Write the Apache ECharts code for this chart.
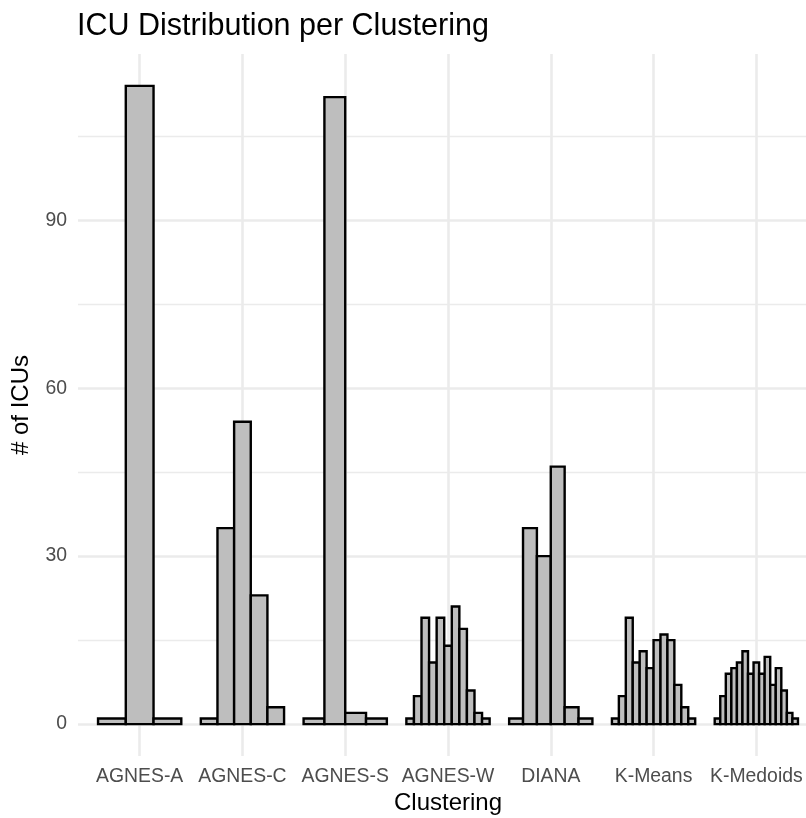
<!DOCTYPE html>
<html>
<head>
<meta charset="utf-8">
<title>ICU Distribution per Clustering</title>
<script src="https://cdn.jsdelivr.net/npm/echarts@6/dist/echarts.min.js"></script>
<style>
  html, body { margin: 0; padding: 0; background: #ffffff; }
  #chart { width: 806px; height: 818px; }
</style>
</head>
<body>
<div id="chart"></div>
<script>
// Clustering methods on the x axis
const categories = ['AGNES-A', 'AGNES-C', 'AGNES-S', 'AGNES-W', 'DIANA', 'K-Means', 'K-Medoids'];

// Number of ICUs in each cluster, per clustering method (cluster order)
const agnesA   = [1, 114, 1];
const agnesC   = [1, 35, 54, 23, 3];
const agnesS   = [1, 112, 2, 1];
const agnesW   = [1, 5, 19, 11, 19, 14, 21, 17, 6, 2, 1];
const diana    = [1, 35, 30, 46, 3, 1];
const kMeans   = [1, 5, 19, 11, 13, 10, 15, 16, 15, 7, 3, 1];
const kMedoids = [1, 5, 9, 10, 11, 13, 9, 11, 9, 12, 7, 10, 6, 2, 1];

const countsPerMethod = [agnesA, agnesC, agnesS, agnesW, diana, kMeans, kMedoids];

// Axis ticks
const yMajorTicks = [0, 30, 60, 90];
const yMinorTicks = [15, 45, 75, 105];
const xTicks = [1, 2, 3, 4, 5, 6, 7];

// Rows: [method position, count, cluster index, clusters in method]
const rows = [];
countsPerMethod.forEach((counts, i) => {
  counts.forEach((v, k) => rows.push([xTicks[i], v, k, counts.length]));
});

const yMax = Math.max(...countsPerMethod.flat());
const yPad = yMax * 0.05;
const GROUP_WIDTH = 0.81;
const FONT = "'Liberation Sans', Arial, sans-serif";

const chart = echarts.init(document.getElementById('chart'), null, { renderer: 'canvas' });

const gridLines = []
  .concat(yMajorTicks.map(v => ({ yAxis: v, lineStyle: { color: '#ebebeb', width: 2.6, type: 'solid' } })))
  .concat(yMinorTicks.map(v => ({ yAxis: v, lineStyle: { color: '#ebebeb', width: 1.4, type: 'solid' } })))
  .concat(xTicks.map(v => ({ xAxis: v, lineStyle: { color: '#ebebeb', width: 2.6, type: 'solid' } })));

chart.setOption({
  animation: false,
  backgroundColor: '#ffffff',
  textStyle: { fontFamily: FONT },
  title: {
    text: 'ICU Distribution per Clustering',
    left: 72,
    top: 6,
    textStyle: { fontFamily: FONT, fontSize: 30.5, fontWeight: 'normal', color: '#000000' }
  },
  grid: {
    left: 78,
    right: -12,
    top: 54,
    bottom: 62,
    containLabel: false,
    outerBoundsMode: 'none'
  },
  xAxis: {
    type: 'value',
    min: 0.4,
    max: 7.6,
    name: 'Clustering',
    nameLocation: 'middle',
    nameGap: 33,
    nameTextStyle: { fontFamily: FONT, fontSize: 24, color: '#000000' },
    axisLine: { show: false },
    axisTick: { show: false },
    splitLine: { show: false },
    axisLabel: {
      customValues: xTicks,
      formatter: v => categories[Math.round(v) - 1] || '',
      margin: 11,
      fontFamily: FONT,
      fontSize: 19.4,
      color: '#4d4d4d'
    }
  },
  yAxis: {
    type: 'value',
    min: -yPad,
    max: yMax + yPad,
    name: '# of ICUs',
    nameLocation: 'middle',
    nameGap: 45,
    nameRotate: 90,
    nameTextStyle: { fontFamily: FONT, fontSize: 24, color: '#000000' },
    axisLine: { show: false },
    axisTick: { show: false },
    splitLine: { show: false },
    axisLabel: {
      customValues: yMajorTicks,
      margin: 11,
      fontFamily: FONT,
      fontSize: 19.4,
      color: '#4d4d4d'
    }
  },
  series: [
    {
      // panel grid lines
      type: 'line',
      data: [],
      silent: true,
      z: 1,
      markLine: {
        silent: true,
        z: 1,
        symbol: ['none', 'none'],
        label: { show: false },
        emphasis: { disabled: true },
        data: gridLines
      }
    },
    {
      type: 'custom',
      z: 3,
      silent: true,
      encode: { x: 0, y: 1 },
      data: rows,
      renderItem: function (params, api) {
        const x = api.value(0);
        const v = api.value(1);
        const k = api.value(2);
        const n = api.value(3);
        const base = api.coord([x, 0]);
        const top = api.coord([x, v]);
        const unit = api.size([1, 0])[0];
        const groupW = unit * GROUP_WIDTH;
        const barW = groupW / n;
        const left = base[0] - groupW / 2 + k * barW;
        return {
          type: 'rect',
          shape: { x: left, y: top[1], width: barW, height: base[1] - top[1] },
          style: { fill: '#bebebe', stroke: '#000000', lineWidth: 2.4 }
        };
      }
    }
  ]
});
</script>
</body>
</html>
